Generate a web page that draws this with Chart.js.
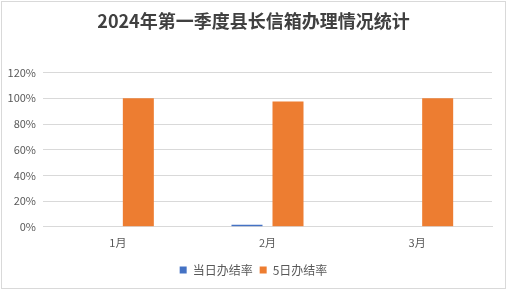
<!DOCTYPE html>
<html>
<head>
<meta charset="utf-8">
<script src="https://cdn.jsdelivr.net/npm/chart.js@4/dist/chart.umd.min.js"></script>
<style>
  html, body { margin: 0; padding: 0; background: #fff; }
  #wrap { width: 507px; height: 292px; }
</style>
</head>
<body>
<div id="wrap"><canvas id="bar-chart" width="507" height="292"></canvas></div>
<script>
// chart data
var months = ["1月", "2月", "3月"];
var sameDayRate = [0, 0.016, 0];     // 当日办结率
var fiveDayRate = [1.0, 0.976, 1.0]; // 5日办结率
var seriesNames = ["当日办结率", "5日办结率"];
var chartTitle = "2024年第一季度县长信箱办理情况统计";

var cjkFont = "'Noto Sans CJK SC', 'Noto Sans', sans-serif";

// light frame round the chart, like the spreadsheet chart box
var framePlugin = {
  id: "frame",
  afterDraw: function(chart) {
    var ctx = chart.ctx;
    ctx.save();
    ctx.strokeStyle = "#d9d9d9";
    ctx.lineWidth = 1;
    ctx.strokeRect(1.5, 1.5, 504, 287);
    ctx.restore();
  }
};

new Chart(document.getElementById("bar-chart"), {
  type: "bar",
  data: {
    labels: months,
    datasets: [
      { label: seriesNames[0], data: sameDayRate, backgroundColor: "#4472C4" },
      { label: seriesNames[1], data: fiveDayRate, backgroundColor: "#ED7D31" }
    ]
  },
  options: {
    responsive: false,
    animation: false,
    devicePixelRatio: 1,
    layout: { padding: { left: 0, right: 0, top: 0, bottom: 6 } },
    datasets: { bar: { categoryPercentage: 0.548, barPercentage: 0.756 } },
    plugins: {
      title: {
        display: true,
        text: chartTitle,
        color: "#404040",
        font: { family: cjkFont, size: 18, weight: "bold" },
        padding: { top: 10, bottom: 41 }
      },
      legend: {
        position: "bottom",
        labels: {
          boxWidth: 7, boxHeight: 7,
          color: "#595959",
          font: { family: cjkFont, size: 12 },
          padding: 7
        }
      },
      tooltip: { enabled: false }
    },
    scales: {
      x: {
        grid: { display: false },
        border: { color: "#d9d9d9" },
        afterFit: function(s) { s.height += 7; },
        ticks: { color: "#595959", font: { family: cjkFont, size: 11 }, padding: 1 }
      },
      y: {
        min: 0, max: 1.2,
        afterFit: function(s) { s.width = 43; },
        grid: { color: "#d9d9d9", drawTicks: false },
        border: { display: false },
        ticks: {
          stepSize: 0.2,
          padding: 7,
          color: "#595959",
          font: { family: cjkFont, size: 11 },
          callback: function(v) { return Math.round(v * 100) + "%"; }
        }
      },
      // empty right-hand gutter so the plot ends where the reference does
      gutter: {
        position: "right",
        grid: { display: false },
        border: { display: false },
        ticks: { display: false },
        afterFit: function(s) { s.width = 15; }
      }
    }
  },
  plugins: [framePlugin]
});
</script>
</body>
</html>
